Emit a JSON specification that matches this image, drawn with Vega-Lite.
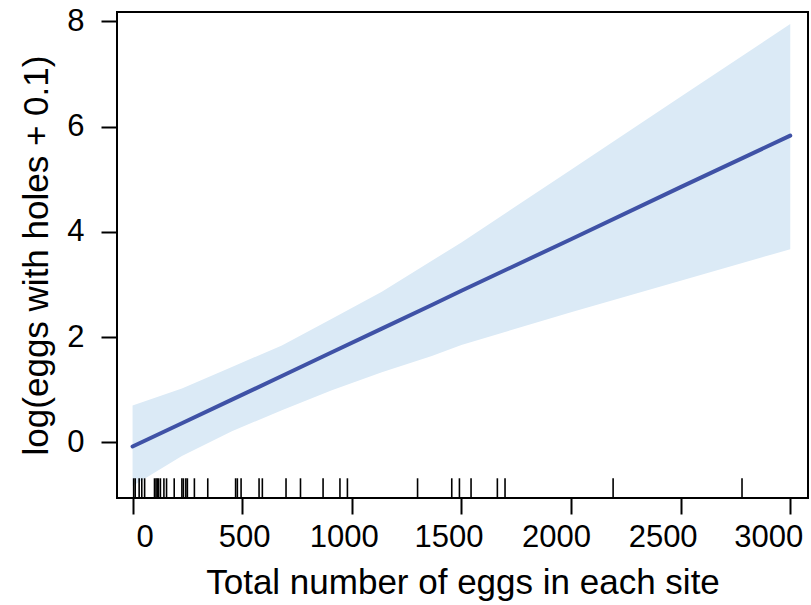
{
  "$schema": "https://vega.github.io/schema/vega-lite/v6.json",
  "width": 691,
  "height": 486,
  "autosize": {"type": "none"},
  "padding": {"left": 117, "top": 12, "right": 3, "bottom": 107},
  "config": {
    "view": {"stroke": "black", "strokeWidth": 2},
    "font": "Liberation Sans",
    "axis": {
      "grid": false,
      "domain": false,
      "ticks": true,
      "tickColor": "black",
      "tickWidth": 2,
      "tickSize": 16,
      "labelColor": "black",
      "titleColor": "black",
      "labelFont": "Liberation Sans",
      "titleFont": "Liberation Sans",
      "labelFontSize": 31,
      "titleFontSize": 35,
      "titleFontWeight": "normal"
    }
  },
  "datasets": {
    "fit": [
      {"eggs": 0, "fit": -0.08, "lower": -0.83, "upper": 0.70},
      {"eggs": 225, "fit": 0.36, "lower": -0.26, "upper": 1.02},
      {"eggs": 453, "fit": 0.81, "lower": 0.21, "upper": 1.43},
      {"eggs": 681, "fit": 1.26, "lower": 0.61, "upper": 1.84},
      {"eggs": 909, "fit": 1.71, "lower": 0.99, "upper": 2.35},
      {"eggs": 1137, "fit": 2.16, "lower": 1.33, "upper": 2.86},
      {"eggs": 1365, "fit": 2.61, "lower": 1.64, "upper": 3.45},
      {"eggs": 1500, "fit": 2.88, "lower": 1.85, "upper": 3.80},
      {"eggs": 2000, "fit": 3.86, "lower": 2.47, "upper": 5.18},
      {"eggs": 2500, "fit": 4.85, "lower": 3.07, "upper": 6.57},
      {"eggs": 3000, "fit": 5.83, "lower": 3.67, "upper": 7.95}
    ],
    "rug": [
      {"eggs": 5}, {"eggs": 12}, {"eggs": 30}, {"eggs": 42}, {"eggs": 55},
      {"eggs": 100}, {"eggs": 107}, {"eggs": 113}, {"eggs": 118}, {"eggs": 127},
      {"eggs": 143}, {"eggs": 155}, {"eggs": 190}, {"eggs": 225}, {"eggs": 232},
      {"eggs": 243}, {"eggs": 250}, {"eggs": 282}, {"eggs": 343}, {"eggs": 470},
      {"eggs": 478}, {"eggs": 495}, {"eggs": 577}, {"eggs": 592}, {"eggs": 700},
      {"eggs": 766}, {"eggs": 869}, {"eggs": 946}, {"eggs": 980}, {"eggs": 1300},
      {"eggs": 1456}, {"eggs": 1491}, {"eggs": 1544}, {"eggs": 1664}, {"eggs": 1699},
      {"eggs": 2192}, {"eggs": 2780}
    ]
  },
  "layer": [
    {
      "data": {"name": "fit"},
      "mark": {"type": "area", "color": "#dbeaf6", "opacity": 1},
      "encoding": {
        "x": {
          "field": "eggs", "type": "quantitative",
          "scale": {"domain": [-71, 3081], "nice": false, "zero": false},
          "axis": {
            "values": [0, 500, 1000, 1500, 2000, 2500, 3000],
            "title": "Total number of eggs in each site",
            "labelPadding": 8,
            "titlePadding": 13,
            "format": "d",
            "labelFlush": false,
            "labelOverlap": false,
            "labelOffset": {
              "condition": [
                {"test": "datum.value == 0", "value": 12},
                {"test": "datum.value == 500", "value": 2},
                {"test": "datum.value == 1000", "value": -8},
                {"test": "datum.value == 1500", "value": -13},
                {"test": "datum.value == 2000", "value": -15},
                {"test": "datum.value == 2500", "value": -18}
              ],
              "value": -22
            }
          }
        },
        "y": {
          "field": "lower", "type": "quantitative",
          "scale": {"domain": [-1.06, 8.18], "nice": false, "zero": false},
          "axis": {
            "values": [0, 2, 4, 6, 8],
            "title": "log(eggs with holes + 0.1)",
            "labelPadding": 17,
            "titlePadding": 12,
            "format": "d",
            "labelFlush": false,
            "labelOverlap": false
          }
        },
        "y2": {"field": "upper"}
      }
    },
    {
      "data": {"name": "rug"},
      "mark": {"type": "rule", "color": "black", "strokeWidth": 1.6},
      "encoding": {
        "x": {"field": "eggs", "type": "quantitative"},
        "y": {"datum": -0.685},
        "y2": {"datum": -1.06}
      }
    },
    {
      "data": {"name": "fit"},
      "mark": {"type": "line", "color": "#3f52a6", "strokeWidth": 4, "strokeCap": "round"},
      "encoding": {
        "x": {"field": "eggs", "type": "quantitative"},
        "y": {"field": "fit", "type": "quantitative"}
      }
    }
  ]
}
